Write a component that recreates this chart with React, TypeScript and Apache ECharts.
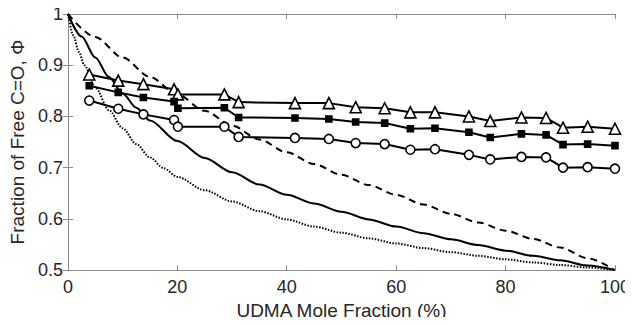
import React, { useEffect, useRef } from "react";
import * as echarts from "echarts";

// Experimental data (UDMA mole fraction %, fraction of free C=O)
const expX = [3.9, 9.2, 13.8, 19.4, 20.1, 28.6, 31.2, 41.5, 47.7, 52.6, 57.9, 62.6, 67.1, 73.3, 77.2, 82.9, 87.4, 90.5, 95, 100];
const triangleY = [0.882, 0.870, 0.863, 0.853, 0.843, 0.843, 0.828, 0.826, 0.826, 0.818, 0.816, 0.808, 0.808, 0.800, 0.791, 0.798, 0.797, 0.778, 0.780, 0.776];
const squareY = [0.860, 0.847, 0.837, 0.829, 0.816, 0.817, 0.798, 0.797, 0.795, 0.789, 0.787, 0.776, 0.777, 0.769, 0.759, 0.766, 0.764, 0.745, 0.746, 0.743];
const circleY = [0.831, 0.815, 0.804, 0.793, 0.780, 0.780, 0.760, 0.758, 0.756, 0.748, 0.746, 0.735, 0.736, 0.725, 0.716, 0.721, 0.720, 0.700, 0.701, 0.698];

// Model curves
const dashedX = [0, 5, 10, 15, 20, 25, 30, 35, 40, 45, 50, 55, 60, 65, 70, 75, 80, 85, 90, 95, 100];
const dashedY = [1, 0.955, 0.915, 0.877, 0.843, 0.811, 0.782, 0.755, 0.730, 0.707, 0.686, 0.666, 0.647, 0.628, 0.610, 0.593, 0.577, 0.561, 0.544, 0.523, 0.5];

const solidX = [0, 2.5, 5, 7.5, 10, 12.5, 15, 20, 25, 30, 35, 40, 45, 50, 55, 60, 65, 70, 75, 80, 85, 90, 95, 100];
const solidY = [1, 0.956, 0.915, 0.877, 0.845, 0.817, 0.792, 0.752, 0.719, 0.691, 0.667, 0.647, 0.630, 0.614, 0.599, 0.585, 0.572, 0.560, 0.549, 0.538, 0.528, 0.519, 0.509, 0.5];

const dottedX = [0, 1, 2, 3, 5, 7.5, 10, 12.5, 15, 17.5, 20, 25, 30, 35, 40, 45, 50, 55, 60, 65, 70, 75, 80, 85, 90, 95, 100];
const dottedY = [1, 0.958, 0.926, 0.900, 0.857, 0.812, 0.777, 0.746, 0.720, 0.699, 0.682, 0.656, 0.634, 0.615, 0.599, 0.585, 0.573, 0.562, 0.552, 0.543, 0.535, 0.528, 0.521, 0.515, 0.510, 0.505, 0.5];

const xTicks = [0, 20, 40, 60, 80, 100];
const yTicks = [0.5, 0.6, 0.7, 0.8, 0.9, 1];

const zip = (xs: number[], ys: number[]) => xs.map((x, i) => [x, ys[i]]);

export default function App() {
  const ref = useRef<HTMLDivElement>(null);
  useEffect(() => {
    if (!ref.current) return;
    const chart = echarts.init(ref.current, undefined, { renderer: "svg" });
    const font = "Liberation Sans, Arial, sans-serif";
    const axisColor = "#8c8c8c";
    const textColor = "#262626";
    const baseX = {
      type: "value",
      min: xTicks[0],
      max: xTicks[xTicks.length - 1],
      interval: 20,
      axisLine: { show: true, lineStyle: { color: axisColor, width: 1 } },
      axisTick: { show: true, inside: true, length: 5, lineStyle: { color: axisColor } },
      splitLine: { show: false },
    };
    const baseY = {
      type: "value",
      min: yTicks[0],
      max: yTicks[yTicks.length - 1],
      interval: 0.1,
      axisLine: { show: true, lineStyle: { color: axisColor, width: 1 } },
      axisTick: { show: true, inside: true, length: 5, lineStyle: { color: axisColor } },
      splitLine: { show: false },
    };
    const lineSeries = (data: number[][], type: any) => ({
      type: "line",
      data,
      showSymbol: false,
      symbol: "none",
      smooth: 0.3,
      smoothMonotone: "x",
      lineStyle: { color: "#000", width: 2, type },
      z: 2,
    });
    const markSeries = (data: number[][], symbol: string, size: number, fill: string) => ({
      type: "line",
      data,
      symbol,
      symbolSize: size,
      showSymbol: true,
      lineStyle: { color: "#000", width: 2 },
      itemStyle: { color: fill, borderColor: "#000", borderWidth: 1.6 },
      z: 3,
    });
    chart.setOption({
      animation: false,
      backgroundColor: "#fff",
      grid: { left: 65, right: 17, top: 14, bottom: 51, containLabel: false },
      xAxis: [
        {
          ...baseX,
          position: "bottom",
          name: "UDMA Mole Fraction (%)",
          nameLocation: "middle",
          nameGap: 30,
          nameTextStyle: { fontFamily: font, fontSize: 19, color: textColor },
          axisLabel: { show: true, fontFamily: font, fontSize: 18, color: textColor, margin: 8 },
        },
        { ...baseX, position: "top", axisLabel: { show: false } },
      ],
      yAxis: [
        {
          ...baseY,
          position: "left",
          name: "Fraction of Free C=O, Φ",
          nameLocation: "middle",
          nameGap: 37,
          nameTextStyle: { fontFamily: font, fontSize: 19, color: textColor },
          axisLabel: {
            show: true,
            fontFamily: font,
            fontSize: 18,
            color: textColor,
            margin: 5,
            formatter: (v: number) => String(Math.round(v * 10) / 10),
          },
        },
        { ...baseY, position: "right", axisLabel: { show: false } },
      ],
      series: [
        lineSeries(zip(dashedX, dashedY), [7, 5]),
        lineSeries(zip(solidX, solidY), "solid"),
        lineSeries(zip(dottedX, dottedY), [1.5, 1.5]),
        markSeries(zip(expX, triangleY), "triangle", 11, "#fff"),
        markSeries(zip(expX, squareY), "rect", 6, "#000"),
        markSeries(zip(expX, circleY), "circle", 9, "#fff"),
      ],
    });
    return () => chart.dispose();
  }, []);
  return <div ref={ref} style={{ width: 633, height: 325, margin: -8 }} />;
}
